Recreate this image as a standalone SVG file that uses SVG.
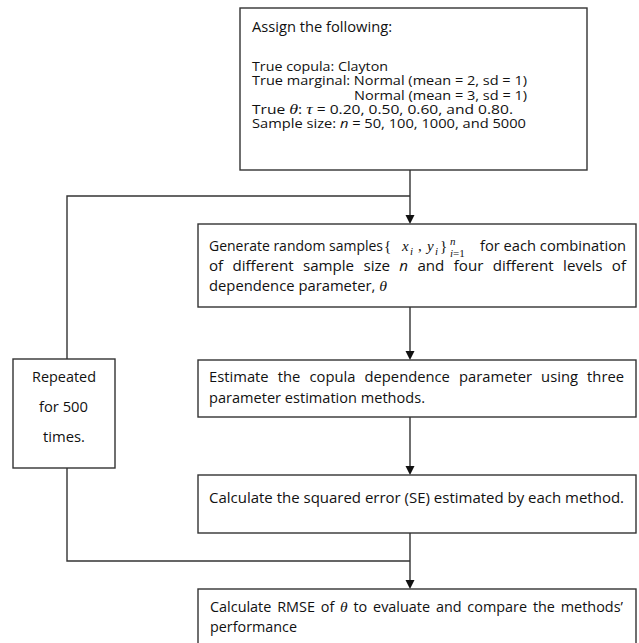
<svg xmlns="http://www.w3.org/2000/svg" width="639" height="643" viewBox="0 0 639 643">
<defs>
<style>
.box{fill:#fff;stroke:#333;stroke-width:1.4}
.t{font-family:"Open Sans","Liberation Sans",sans-serif;font-size:14px;fill:#111}
.s{font-size:13px}
.mi{font-family:"Liberation Serif","DejaVu Serif",serif;font-style:italic;font-size:15px;fill:#111}
.m{font-family:"Liberation Serif","DejaVu Serif",serif;font-size:15px;fill:#111}
.ms{font-family:"Liberation Serif","DejaVu Serif",serif;font-style:italic;font-size:11px;fill:#111}
.it{font-style:italic}
.c{fill:none;stroke:#333;stroke-width:1.4}
.ah{fill:#111}
</style>
</defs>
<rect width="639" height="643" fill="#fff"/>

<g id="connectors">
<path class="c" d="M410,170 V218"/>
<path class="ah" d="M405.5,215 L414.5,215 L410,224 Z"/>
<path class="c" d="M410,196 H67 V359"/>
<path class="c" d="M67,468 V561 H410"/>
<path class="c" d="M410,307 V354"/>
<path class="ah" d="M405.5,351 L414.5,351 L410,360 Z"/>
<path class="c" d="M410,417 V469"/>
<path class="ah" d="M405.5,466 L414.5,466 L410,475 Z"/>
<path class="c" d="M410,533 V583"/>
<path class="ah" d="M405.5,580 L414.5,580 L410,589 Z"/>
</g>

<g id="assign">
<rect class="box" x="240" y="8" width="347" height="162"/>
<text class="t" x="252" y="32" textLength="140" lengthAdjust="spacingAndGlyphs">Assign the following:</text>
<text class="t s" x="252" y="71" textLength="136" lengthAdjust="spacingAndGlyphs">True copula: Clayton</text>
<text class="t s" x="252" y="85.3" textLength="275" lengthAdjust="spacingAndGlyphs">True marginal: Normal (mean = 2, sd = 1)</text>
<text class="t s" x="354" y="99.5" textLength="173" lengthAdjust="spacingAndGlyphs">Normal (mean = 3, sd = 1)</text>
<text class="t s" x="252" y="113.8" textLength="261" lengthAdjust="spacingAndGlyphs">True <tspan class="mi" font-size="13">θ</tspan>: <tspan class="mi" font-size="13">τ</tspan> = 0.20, 0.50, 0.60, and 0.80.</text>
<text class="t s" x="252" y="128" textLength="274" lengthAdjust="spacingAndGlyphs">Sample size: <tspan class="it">n</tspan> = 50, 100, 1000, and 5000</text>
</g>

<g id="generate">
<rect class="box" x="198" y="224" width="438" height="83"/>
<text class="t" x="209" y="251" textLength="174" lengthAdjust="spacingAndGlyphs">Generate random samples</text>
<text class="m" x="384" y="251">{</text>
<text class="mi" x="402" y="251">x</text>
<text class="ms" x="410" y="254.5">i</text>
<text class="m" x="418" y="251">,</text>
<text class="mi" x="427" y="251">y</text>
<text class="ms" x="435" y="254.5">i</text>
<text class="m" x="440" y="251">}</text>
<text class="ms" x="450" y="245">n</text>
<text class="ms" x="450" y="256.5">i<tspan font-style="normal">=1</tspan></text>
<text class="t" x="480" y="251" textLength="146" lengthAdjust="spacingAndGlyphs">for each combination</text>
<text class="t" x="209" y="271" textLength="417" lengthAdjust="spacingAndGlyphs" word-spacing="5">of different sample size <tspan class="it">n</tspan> and four different levels of</text>
<text class="t" x="209" y="291" textLength="178" lengthAdjust="spacingAndGlyphs">dependence parameter, <tspan class="mi" font-size="14">θ</tspan></text>
</g>

<g id="estimate">
<rect class="box" x="198" y="360" width="438" height="57"/>
<text class="t" x="209" y="382" textLength="415" lengthAdjust="spacingAndGlyphs" word-spacing="5">Estimate the copula dependence parameter using three</text>
<text class="t" x="209" y="403" textLength="216" lengthAdjust="spacingAndGlyphs">parameter estimation methods.</text>
</g>

<g id="squared-error">
<rect class="box" x="198" y="475" width="438" height="58"/>
<text class="t" x="209" y="503" textLength="415" lengthAdjust="spacingAndGlyphs">Calculate the squared error (SE) estimated by each method.</text>
</g>

<g id="repeated">
<rect class="box" x="13" y="359" width="102" height="109"/>
<text class="t" x="32" y="382" textLength="64" lengthAdjust="spacingAndGlyphs">Repeated</text>
<text class="t" x="39" y="412" textLength="49" lengthAdjust="spacingAndGlyphs">for 500</text>
<text class="t" x="43" y="442" textLength="42" lengthAdjust="spacingAndGlyphs">times.</text>
</g>

<g id="rmse">
<rect class="box" x="198" y="589" width="438" height="60"/>
<text class="t" x="210" y="612" textLength="413" lengthAdjust="spacingAndGlyphs" word-spacing="2">Calculate RMSE of <tspan class="mi" font-size="14">θ</tspan> to evaluate and compare the methods’</text>
<text class="t" x="210" y="632" textLength="87" lengthAdjust="spacingAndGlyphs">performance</text>
</g>
</svg>
